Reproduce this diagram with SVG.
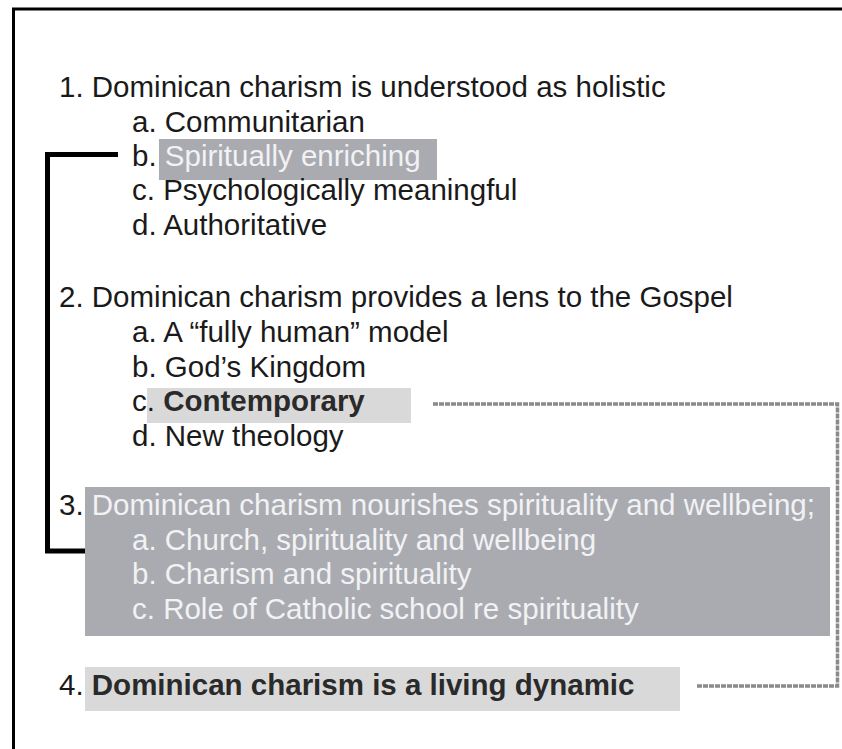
<svg xmlns="http://www.w3.org/2000/svg" width="842" height="749" viewBox="0 0 842 749">
  <style>
    text { font-family: "Liberation Sans", Arial, sans-serif; font-size: 29.5px; fill: #1a1a1a; }
    .lt { fill: #f2f2f4; }
    .bd { font-weight: bold; fill: #2a2a2a; }
    .mid { fill: #a9abb1; }
    .pale { fill: #d9d9d9; }
  </style>
  <rect width="842" height="749" fill="#ffffff"/>
  <!-- outer frame, open on the right and bottom -->
  <path d="M13.5 760 V9 H860" fill="none" stroke="#000" stroke-width="3"/>

  <g id="connectors">
    <path d="M118 154.5 H47.5 V551 H120" fill="none" stroke="#000" stroke-width="5"/>
    <path d="M433 404 H837.5 V686 H697" fill="none" stroke="#8a8a8a" stroke-width="3.5" stroke-dasharray="5 1"/>
  </g>

  <g id="item1">
    <text x="59" y="97">1. Dominican charism is understood as holistic</text>
    <text x="132" y="132">a. Communitarian</text>
    <rect class="mid" x="159" y="139" width="278" height="41"/>
    <text x="132" y="166">b. <tspan class="lt">Spiritually enriching</tspan></text>
    <text x="132" y="200">c. Psychologically meaningful</text>
    <text x="132" y="235">d. Authoritative</text>
  </g>

  <g id="item2">
    <text x="59" y="307">2. Dominican charism provides a lens to the Gospel</text>
    <text x="132" y="342">a. A “fully human” model</text>
    <text x="132" y="377">b. God’s Kingdom</text>
    <rect class="pale" x="147" y="388" width="264" height="35"/>
    <text x="132" y="411">c. <tspan class="bd">Contemporary</tspan></text>
    <text x="132" y="446">d. New theology</text>
  </g>

  <g id="item3">
    <rect class="mid" x="85" y="487" width="745" height="149"/>
    <text x="59" y="515">3.<tspan class="lt"> Dominican charism nourishes spirituality and wellbeing;</tspan></text>
    <text class="lt" x="132" y="550">a. Church, spirituality and wellbeing</text>
    <text class="lt" x="132" y="584">b. Charism and spirituality</text>
    <text class="lt" x="132" y="619">c. Role of Catholic school re spirituality</text>
  </g>

  <g id="item4">
    <rect class="pale" x="85" y="667" width="595" height="44"/>
    <text x="59" y="695">4. <tspan class="bd">Dominican charism is a living dynamic</tspan></text>
  </g>
</svg>
